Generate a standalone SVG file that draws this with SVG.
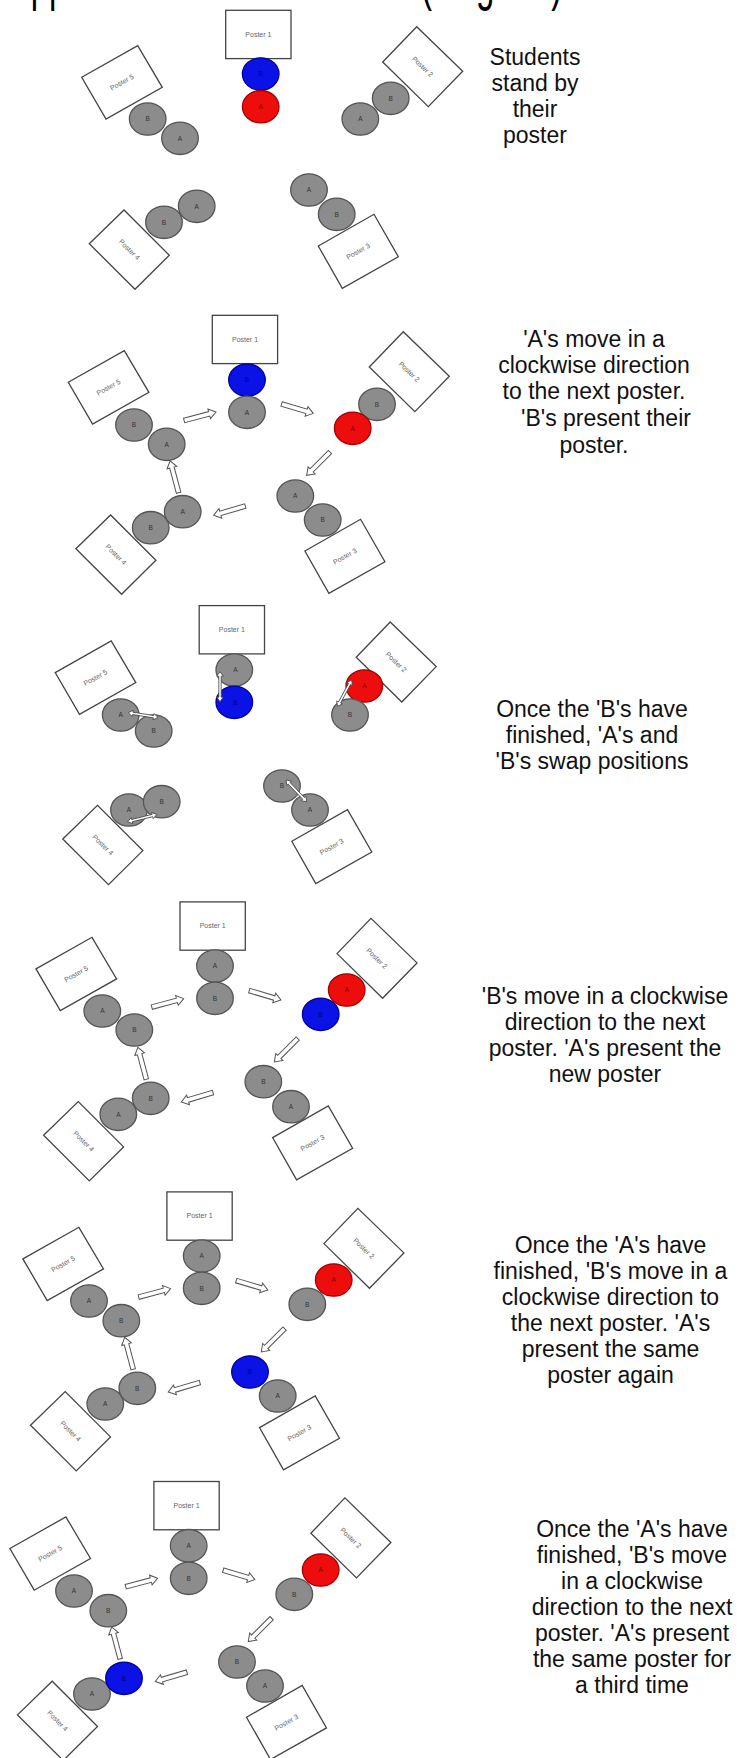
<svg xmlns="http://www.w3.org/2000/svg" xmlns:xlink="http://www.w3.org/1999/xlink" width="739" height="1758" viewBox="0 0 739 1758">
  <style>
    .poster rect, .poster polygon { fill: #fff; stroke: #444; stroke-width: 1.3; }
    .poster text { font-family: "Liberation Sans", Arial, sans-serif; font-size: 7px; fill: #666; text-anchor: middle; }
    .student ellipse { fill: #8c8c8c; stroke: #555; stroke-width: 1.3; }
    .student.blue ellipse { fill: #0a12e6; stroke: #0000a0; }
    .student.red ellipse { fill: #ee0d0d; stroke: #a40000; }
    .student text { font-family: "Liberation Sans", Arial, sans-serif; font-size: 6.5px; fill: #333; text-anchor: middle; }
    .student.blue text { fill: #00008a; }
    .student.red text { fill: #8a0000; }
    .move { fill: #fff; stroke: #555; stroke-width: 1; }
    .swap { fill: #fff; stroke: #444; stroke-width: 0.8; }
    .caption { font-family: "Liberation Sans", Arial, sans-serif; font-size: 23px; fill: #111; text-anchor: middle; }
    .heading { font-family: "Liberation Sans", Arial, sans-serif; font-size: 33px; fill: #000; }
  </style>
  <defs>
    <!-- hollow block arrow, 33 long, pointing along +x -->
    <path id="blk" d="M0,-2.3 H26 V-5 L33,0 L26,5 V2.3 H0 Z"/>
    <!-- thin double-headed arrow, 30 long, pointing along +x -->
    <path id="dbl" d="M0,0 L4.5,-3.2 V-1.2 H25.5 V-3.2 L30,0 L25.5,3.2 V1.2 H4.5 V3.2 Z"/>
  </defs>
  <rect width="739" height="1758" fill="#fff"/>

  <!-- page heading, sitting above the top edge so only its descenders show -->
  <g id="heading" transform="scale(1,1.7)">
    <text class="heading" x="8.7" y="-0.8">Approach</text>
    <text class="heading" x="421" y="-0.8">(diagram)</text>
  </g>

  <!-- ===== Step 1 ===== -->
  <g id="step1">
    <g id="s1-poster1" class="poster"><rect x="225.7" y="10.3" width="65.3" height="48.3"/><text x="258.4" y="36.8">Poster 1</text></g>
    <g id="s1-poster2" class="poster"><polygon points="382.7,62 416.7,26.7 462.7,71.3 428.3,106.7"/><text transform="translate(422.6,66.7) rotate(44)" dy="2.4">Poster 2</text></g>
    <g id="s1-poster3" class="poster"><polygon points="318.3,246 374,214.3 398.3,256.7 342.3,288.3"/><text transform="translate(358.2,251.3) rotate(-29.6)" dy="2.4">Poster 3</text></g>
    <g id="s1-poster4" class="poster"><polygon points="89.3,243.7 124,210 169.3,255.3 135,289.3"/><text transform="translate(129.4,249.6) rotate(45)" dy="2.4">Poster 4</text></g>
    <g id="s1-poster5" class="poster"><polygon points="81.7,77.3 137.7,45.7 162.3,87.3 106,119"/><text transform="translate(121.9,82.3) rotate(-29.4)" dy="2.4">Poster 5</text></g>

    <g id="s1-p1-b" class="student blue"><ellipse cx="260.7" cy="74" rx="18.3" ry="16.2"/><text x="260.7" y="76.3">B</text></g>
    <g id="s1-p1-a" class="student red"><ellipse cx="260.7" cy="106.7" rx="18.3" ry="16.2"/><text x="260.7" y="109">A</text></g>
    <g id="s1-p5-b" class="student"><ellipse cx="147.7" cy="119" rx="18.3" ry="16.2"/><text x="147.7" y="121.3">B</text></g>
    <g id="s1-p5-a" class="student"><ellipse cx="180" cy="138.3" rx="18.3" ry="16.2"/><text x="180" y="140.6">A</text></g>
    <g id="s1-p2-b" class="student"><ellipse cx="390.7" cy="98.3" rx="18.3" ry="16.2"/><text x="390.7" y="100.6">B</text></g>
    <g id="s1-p2-a" class="student"><ellipse cx="360.3" cy="119" rx="18.3" ry="16.2"/><text x="360.3" y="121.3">A</text></g>
    <g id="s1-p3-a" class="student"><ellipse cx="309" cy="190" rx="18.3" ry="16.2"/><text x="309" y="192.3">A</text></g>
    <g id="s1-p3-b" class="student"><ellipse cx="336.7" cy="214.3" rx="18.3" ry="16.2"/><text x="336.7" y="216.6">B</text></g>
    <g id="s1-p4-b" class="student"><ellipse cx="164" cy="222.3" rx="18.3" ry="16.2"/><text x="164" y="224.6">B</text></g>
    <g id="s1-p4-a" class="student"><ellipse cx="196.7" cy="206.3" rx="18.3" ry="16.2"/><text x="196.7" y="208.6">A</text></g>

    <text id="s1-caption" class="caption"><tspan x="535" y="65">Students</tspan><tspan x="535" y="90.7">stand by</tspan><tspan x="535" y="117.3">their</tspan><tspan x="535" y="143.3">poster</tspan></text>
  </g>

  <!-- ===== Step 2 ===== -->
  <g id="step2">
    <g transform="translate(-13.4,305)">
      <g id="s2-poster1" class="poster"><rect x="225.7" y="10.3" width="65.3" height="48.3"/><text x="258.4" y="36.8">Poster 1</text></g>
      <g id="s2-poster2" class="poster"><polygon points="382.7,62 416.7,26.7 462.7,71.3 428.3,106.7"/><text transform="translate(422.6,66.7) rotate(44)" dy="2.4">Poster 2</text></g>
      <g id="s2-poster3" class="poster"><polygon points="318.3,246 374,214.3 398.3,256.7 342.3,288.3"/><text transform="translate(358.2,251.3) rotate(-29.6)" dy="2.4">Poster 3</text></g>
      <g id="s2-poster4" class="poster"><polygon points="89.3,243.7 124,210 169.3,255.3 135,289.3"/><text transform="translate(129.4,249.6) rotate(45)" dy="2.4">Poster 4</text></g>
      <g id="s2-poster5" class="poster"><polygon points="81.7,77.3 137.7,45.7 162.3,87.3 106,119"/><text transform="translate(121.9,82.3) rotate(-29.4)" dy="2.4">Poster 5</text></g>

      <g id="s2-p1-b" class="student blue"><ellipse cx="260.4" cy="75" rx="18.3" ry="16.2"/><text x="260.4" y="77.3">B</text></g>
      <g id="s2-p1-a" class="student"><ellipse cx="260.4" cy="107.3" rx="18.3" ry="16.2"/><text x="260.4" y="109.6">A</text></g>
      <g id="s2-p5-b" class="student"><ellipse cx="147.4" cy="120" rx="18.3" ry="16.2"/><text x="147.4" y="122.3">B</text></g>
      <g id="s2-p5-a" class="student"><ellipse cx="180.1" cy="139.3" rx="18.3" ry="16.2"/><text x="180.1" y="141.6">A</text></g>
      <g id="s2-p2-b" class="student"><ellipse cx="390.4" cy="99.3" rx="18.3" ry="16.2"/><text x="390.4" y="101.6">B</text></g>
      <g id="s2-p2-a" class="student red"><ellipse cx="366.1" cy="123.3" rx="18.3" ry="16.2"/><text x="366.1" y="125.6">A</text></g>
      <g id="s2-p3-a" class="student"><ellipse cx="308.7" cy="191" rx="18.3" ry="16.2"/><text x="308.7" y="193.3">A</text></g>
      <g id="s2-p3-b" class="student"><ellipse cx="336.1" cy="215" rx="18.3" ry="16.2"/><text x="336.1" y="217.3">B</text></g>
      <g id="s2-p4-b" class="student"><ellipse cx="164.1" cy="222.7" rx="18.3" ry="16.2"/><text x="164.1" y="225">B</text></g>
      <g id="s2-p4-a" class="student"><ellipse cx="196.1" cy="206.7" rx="18.3" ry="16.2"/><text x="196.1" y="209">A</text></g>

      <g id="s2-moves" class="move">
        <use xlink:href="#blk" transform="translate(197.5,115.5) rotate(-14.9)"/>
        <use xlink:href="#blk" transform="translate(295,99) rotate(16.5)"/>
        <use xlink:href="#blk" transform="translate(343.4,147) rotate(135)"/>
        <use xlink:href="#blk" transform="translate(258.7,201) rotate(163.6)"/>
        <use xlink:href="#blk" transform="translate(192,187.7) rotate(-104.9)"/>
      </g>
    </g>
    <text id="s2-caption" class="caption"><tspan x="594" y="346.7">'A's move in a</tspan><tspan x="594" y="372.7">clockwise direction</tspan><tspan x="594" y="399.3">to the next poster.</tspan><tspan x="606" y="426">'B's present their</tspan><tspan x="594" y="452.7">poster.</tspan></text>
  </g>

  <!-- ===== Step 3 ===== -->
  <g id="step3">
    <g transform="translate(-26.5,595.3)">
      <g id="s3-poster1" class="poster"><rect x="225.7" y="10.3" width="65.3" height="48.3"/><text x="258.4" y="36.8">Poster 1</text></g>
      <g id="s3-poster2" class="poster"><polygon points="382.7,62 416.7,26.7 462.7,71.3 428.3,106.7"/><text transform="translate(422.6,66.7) rotate(44)" dy="2.4">Poster 2</text></g>
      <g id="s3-poster3" class="poster"><polygon points="318.3,246 374,214.3 398.3,256.7 342.3,288.3"/><text transform="translate(358.2,251.3) rotate(-29.6)" dy="2.4">Poster 3</text></g>
      <g id="s3-poster4" class="poster"><polygon points="89.3,243.7 124,210 169.3,255.3 135,289.3"/><text transform="translate(129.4,249.6) rotate(45)" dy="2.4">Poster 4</text></g>
      <g id="s3-poster5" class="poster"><polygon points="81.7,77.3 137.7,45.7 162.3,87.3 106,119"/><text transform="translate(121.9,82.3) rotate(-29.4)" dy="2.4">Poster 5</text></g>

      <g id="s3-p1-a" class="student"><ellipse cx="260.8" cy="74.7" rx="18.3" ry="16.2"/><text x="262" y="77">A</text></g>
      <g id="s3-p1-b" class="student blue"><ellipse cx="260.8" cy="107" rx="18.3" ry="16.2"/><text x="262" y="109.3">B</text></g>
      <g id="s3-p5-a" class="student"><ellipse cx="147.2" cy="119.7" rx="18.3" ry="16.2"/><text x="147.2" y="122">A</text></g>
      <g id="s3-p5-b" class="student"><ellipse cx="180.2" cy="135.7" rx="18.3" ry="16.2"/><text x="180.2" y="138">B</text></g>
      <g id="s3-p2-a" class="student red"><ellipse cx="390.8" cy="90.7" rx="18.3" ry="16.2"/><text x="390.8" y="93">A</text></g>
      <g id="s3-p2-b" class="student"><ellipse cx="376.5" cy="119.7" rx="18.3" ry="16.2"/><text x="376.5" y="122">B</text></g>
      <g id="s3-p3-b" class="student"><ellipse cx="308.5" cy="190.7" rx="18.3" ry="16.2"/><text x="308.5" y="193">B</text></g>
      <g id="s3-p3-a" class="student"><ellipse cx="336.5" cy="214.7" rx="18.3" ry="16.2"/><text x="336.5" y="217">A</text></g>
      <g id="s3-p4-a" class="student"><ellipse cx="155.5" cy="214.7" rx="18.3" ry="16.2"/><text x="155.5" y="217">A</text></g>
      <g id="s3-p4-b" class="student"><ellipse cx="188.2" cy="206.4" rx="18.3" ry="16.2"/><text x="188.2" y="208.7">B</text></g>

      <g id="s3-swaps" class="swap">
        <use xlink:href="#dbl" transform="translate(246.5,76.4) rotate(90)"/>
        <use xlink:href="#dbl" transform="translate(154.8,117.4) rotate(9)"/>
        <use xlink:href="#dbl" transform="translate(378.2,84.7) rotate(118.4)"/>
        <use xlink:href="#dbl" transform="translate(312.5,184.7) rotate(46.4)"/>
        <use xlink:href="#dbl" transform="translate(154.2,226.4) rotate(-14)"/>
      </g>
    </g>
    <text id="s3-caption" class="caption"><tspan x="592" y="717">Once the 'B's have</tspan><tspan x="592" y="743">finished, 'A's and</tspan><tspan x="592" y="769">'B's swap positions</tspan></text>
  </g>

  <!-- ===== Step 4 ===== -->
  <g id="step4">
    <g transform="translate(-45.7,891.6)">
      <g id="s4-poster1" class="poster"><rect x="225.7" y="10.3" width="65.3" height="48.3"/><text x="258.4" y="36.8">Poster 1</text></g>
      <g id="s4-poster2" class="poster"><polygon points="382.7,62 416.7,26.7 462.7,71.3 428.3,106.7"/><text transform="translate(422.6,66.7) rotate(44)" dy="2.4">Poster 2</text></g>
      <g id="s4-poster3" class="poster"><polygon points="318.3,246 374,214.3 398.3,256.7 342.3,288.3"/><text transform="translate(358.2,251.3) rotate(-29.6)" dy="2.4">Poster 3</text></g>
      <g id="s4-poster4" class="poster"><polygon points="89.3,243.7 124,210 169.3,255.3 135,289.3"/><text transform="translate(129.4,249.6) rotate(45)" dy="2.4">Poster 4</text></g>
      <g id="s4-poster5" class="poster"><polygon points="81.7,77.3 137.7,45.7 162.3,87.3 106,119"/><text transform="translate(121.9,82.3) rotate(-29.4)" dy="2.4">Poster 5</text></g>

      <g id="s4-p1-a" class="student"><ellipse cx="260.7" cy="74.4" rx="18.3" ry="16.2"/><text x="260.7" y="76.7">A</text></g>
      <g id="s4-p1-b" class="student"><ellipse cx="260.7" cy="106.7" rx="18.3" ry="16.2"/><text x="260.7" y="109">B</text></g>
      <g id="s4-p5-a" class="student"><ellipse cx="148" cy="119.4" rx="18.3" ry="16.2"/><text x="148" y="121.7">A</text></g>
      <g id="s4-p5-b" class="student"><ellipse cx="180" cy="138.4" rx="18.3" ry="16.2"/><text x="180" y="140.7">B</text></g>
      <g id="s4-p2-a" class="student red"><ellipse cx="392.4" cy="98.4" rx="18.3" ry="16.2"/><text x="392.4" y="100.7">A</text></g>
      <g id="s4-p2-b" class="student blue"><ellipse cx="366.4" cy="122.7" rx="18.3" ry="16.2"/><text x="366.4" y="125">B</text></g>
      <g id="s4-p3-b" class="student"><ellipse cx="309" cy="190.1" rx="18.3" ry="16.2"/><text x="309" y="192.4">B</text></g>
      <g id="s4-p3-a" class="student"><ellipse cx="336.7" cy="215.1" rx="18.3" ry="16.2"/><text x="336.7" y="217.4">A</text></g>
      <g id="s4-p4-a" class="student"><ellipse cx="164" cy="222.7" rx="18.3" ry="16.2"/><text x="164" y="225">A</text></g>
      <g id="s4-p4-b" class="student"><ellipse cx="196.4" cy="206.7" rx="18.3" ry="16.2"/><text x="196.4" y="209">B</text></g>

      <g id="s4-moves" class="move">
        <use xlink:href="#blk" transform="translate(197.5,115.5) rotate(-14.9)"/>
        <use xlink:href="#blk" transform="translate(295,99) rotate(16.5)"/>
        <use xlink:href="#blk" transform="translate(343.4,147) rotate(135)"/>
        <use xlink:href="#blk" transform="translate(258.7,201) rotate(163.6)"/>
        <use xlink:href="#blk" transform="translate(192,187.7) rotate(-104.9)"/>
      </g>
    </g>
    <text id="s4-caption" class="caption"><tspan x="605" y="1004">'B's move in a clockwise</tspan><tspan x="605" y="1030">direction to the next</tspan><tspan x="605" y="1056">poster. 'A's present the</tspan><tspan x="605" y="1082">new poster</tspan></text>
  </g>

  <!-- ===== Step 5 ===== -->
  <g id="step5">
    <g transform="translate(-58.8,1181.6)">
      <g id="s5-poster1" class="poster"><rect x="225.7" y="10.3" width="65.3" height="48.3"/><text x="258.4" y="36.8">Poster 1</text></g>
      <g id="s5-poster2" class="poster"><polygon points="382.7,62 416.7,26.7 462.7,71.3 428.3,106.7"/><text transform="translate(422.6,66.7) rotate(44)" dy="2.4">Poster 2</text></g>
      <g id="s5-poster3" class="poster"><polygon points="318.3,246 374,214.3 398.3,256.7 342.3,288.3"/><text transform="translate(358.2,251.3) rotate(-29.6)" dy="2.4">Poster 3</text></g>
      <g id="s5-poster4" class="poster"><polygon points="89.3,243.7 124,210 169.3,255.3 135,289.3"/><text transform="translate(129.4,249.6) rotate(45)" dy="2.4">Poster 4</text></g>
      <g id="s5-poster5" class="poster"><polygon points="81.7,77.3 137.7,45.7 162.3,87.3 106,119"/><text transform="translate(121.9,82.3) rotate(-29.4)" dy="2.4">Poster 5</text></g>

      <g id="s5-p1-a" class="student"><ellipse cx="260.5" cy="74.4" rx="18.3" ry="16.2"/><text x="260.5" y="76.7">A</text></g>
      <g id="s5-p1-b" class="student"><ellipse cx="260.5" cy="106.7" rx="18.3" ry="16.2"/><text x="260.5" y="109">B</text></g>
      <g id="s5-p5-a" class="student"><ellipse cx="147.8" cy="119.4" rx="18.3" ry="16.2"/><text x="147.8" y="121.7">A</text></g>
      <g id="s5-p5-b" class="student"><ellipse cx="180.1" cy="139.1" rx="18.3" ry="16.2"/><text x="180.1" y="141.4">B</text></g>
      <g id="s5-p2-a" class="student red"><ellipse cx="392.5" cy="98.4" rx="18.3" ry="16.2"/><text x="392.5" y="100.7">A</text></g>
      <g id="s5-p2-b" class="student"><ellipse cx="366.1" cy="122.7" rx="18.3" ry="16.2"/><text x="366.1" y="125">B</text></g>
      <g id="s5-p3-b" class="student blue"><ellipse cx="308.8" cy="190.4" rx="18.3" ry="16.2"/><text x="308.8" y="192.7">B</text></g>
      <g id="s5-p3-a" class="student"><ellipse cx="336.5" cy="214.4" rx="18.3" ry="16.2"/><text x="336.5" y="216.7">A</text></g>
      <g id="s5-p4-a" class="student"><ellipse cx="164.1" cy="222.4" rx="18.3" ry="16.2"/><text x="164.1" y="224.7">A</text></g>
      <g id="s5-p4-b" class="student"><ellipse cx="196.1" cy="206.7" rx="18.3" ry="16.2"/><text x="196.1" y="209">B</text></g>

      <g id="s5-moves" class="move">
        <use xlink:href="#blk" transform="translate(197.5,115.5) rotate(-14.9)"/>
        <use xlink:href="#blk" transform="translate(295,99) rotate(16.5)"/>
        <use xlink:href="#blk" transform="translate(343.4,147) rotate(135)"/>
        <use xlink:href="#blk" transform="translate(258.7,201) rotate(163.6)"/>
        <use xlink:href="#blk" transform="translate(192,187.7) rotate(-104.9)"/>
      </g>
    </g>
    <text id="s5-caption" class="caption"><tspan x="610.5" y="1252.7">Once the 'A's have</tspan><tspan x="610.5" y="1278.7">finished, 'B's move in a</tspan><tspan x="610.5" y="1304.7">clockwise direction to</tspan><tspan x="610.5" y="1330.7">the next poster. 'A's</tspan><tspan x="610.5" y="1357">present the same</tspan><tspan x="610.5" y="1383">poster again</tspan></text>
  </g>

  <!-- ===== Step 6 ===== -->
  <g id="step6">
    <g transform="translate(-71.8,1471.2)">
      <g id="s6-poster1" class="poster"><rect x="225.7" y="10.3" width="65.3" height="48.3"/><text x="258.4" y="36.8">Poster 1</text></g>
      <g id="s6-poster2" class="poster"><polygon points="382.7,62 416.7,26.7 462.7,71.3 428.3,106.7"/><text transform="translate(422.6,66.7) rotate(44)" dy="2.4">Poster 2</text></g>
      <g id="s6-poster3" class="poster"><polygon points="318.3,246 374,214.3 398.3,256.7 342.3,288.3"/><text transform="translate(358.2,251.3) rotate(-29.6)" dy="2.4">Poster 3</text></g>
      <g id="s6-poster4" class="poster"><polygon points="89.3,243.7 124,210 169.3,255.3 135,289.3"/><text transform="translate(129.4,249.6) rotate(45)" dy="2.4">Poster 4</text></g>
      <g id="s6-poster5" class="poster"><polygon points="81.7,77.3 137.7,45.7 162.3,87.3 106,119"/><text transform="translate(121.9,82.3) rotate(-29.4)" dy="2.4">Poster 5</text></g>

      <g id="s6-p1-a" class="student"><ellipse cx="260.5" cy="74.5" rx="18.3" ry="16.2"/><text x="260.5" y="76.8">A</text></g>
      <g id="s6-p1-b" class="student"><ellipse cx="260.5" cy="107.1" rx="18.3" ry="16.2"/><text x="260.5" y="109.4">B</text></g>
      <g id="s6-p5-a" class="student"><ellipse cx="145.8" cy="119.8" rx="18.3" ry="16.2"/><text x="145.8" y="122.1">A</text></g>
      <g id="s6-p5-b" class="student"><ellipse cx="180.1" cy="139.5" rx="18.3" ry="16.2"/><text x="180.1" y="141.8">B</text></g>
      <g id="s6-p2-a" class="student red"><ellipse cx="392.5" cy="98.8" rx="18.3" ry="16.2"/><text x="392.5" y="101.1">A</text></g>
      <g id="s6-p2-b" class="student"><ellipse cx="366.1" cy="123.1" rx="18.3" ry="16.2"/><text x="366.1" y="125.4">B</text></g>
      <g id="s6-p3-b" class="student"><ellipse cx="308.8" cy="190.8" rx="18.3" ry="16.2"/><text x="308.8" y="193.1">B</text></g>
      <g id="s6-p3-a" class="student"><ellipse cx="336.8" cy="214.8" rx="18.3" ry="16.2"/><text x="336.8" y="217.1">A</text></g>
      <g id="s6-p4-a" class="student"><ellipse cx="163.8" cy="222.8" rx="18.3" ry="16.2"/><text x="163.8" y="225.1">A</text></g>
      <g id="s6-p4-b" class="student blue"><ellipse cx="195.8" cy="207.1" rx="18.3" ry="16.2"/><text x="195.8" y="209.4">B</text></g>

      <g id="s6-moves" class="move">
        <use xlink:href="#blk" transform="translate(197.5,115.5) rotate(-14.9)"/>
        <use xlink:href="#blk" transform="translate(295,99) rotate(16.5)"/>
        <use xlink:href="#blk" transform="translate(343.4,147) rotate(135)"/>
        <use xlink:href="#blk" transform="translate(258.7,201) rotate(163.6)"/>
        <use xlink:href="#blk" transform="translate(192,187.7) rotate(-104.9)"/>
      </g>
    </g>
    <text id="s6-caption" class="caption"><tspan x="632" y="1536.7">Once the 'A's have</tspan><tspan x="632" y="1562.7">finished, 'B's move</tspan><tspan x="632" y="1588.7">in a clockwise</tspan><tspan x="632" y="1615">direction to the next</tspan><tspan x="632" y="1641">poster. 'A's present</tspan><tspan x="632" y="1667.3">the same poster for</tspan><tspan x="632" y="1693.3">a third time</tspan></text>
  </g>
</svg>
